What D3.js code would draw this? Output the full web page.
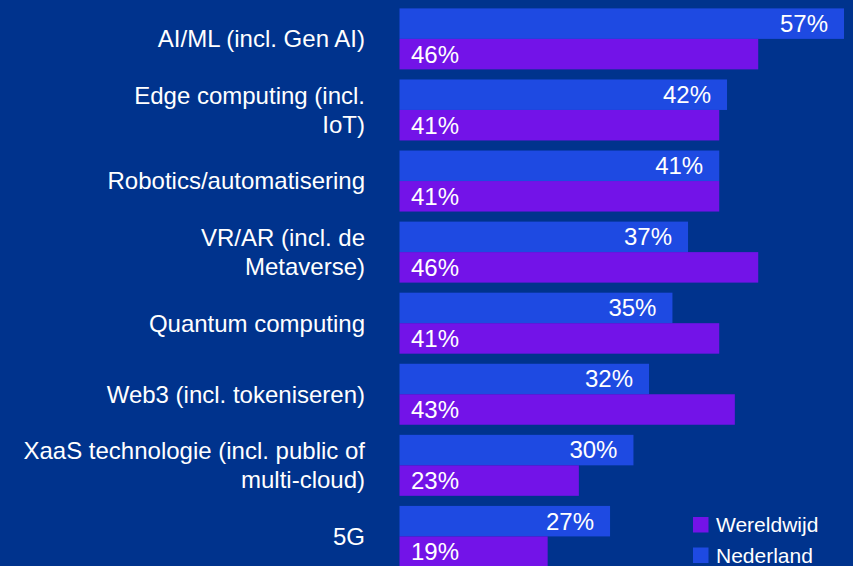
<!DOCTYPE html>
<html>
<head>
<meta charset="utf-8">
<script src="https://cdn.jsdelivr.net/npm/d3@7"></script>
<style>
  html, body { margin: 0; padding: 0; background: #00338D; overflow: hidden; }
  svg { display: block; font-family: "Liberation Sans", Arial, sans-serif; }
</style>
</head>
<body>
<div id="chart"></div>
<script>
// categories, with the line breaks used in the original labels
var categories = [
  ["AI/ML (incl. Gen AI)"],
  ["Edge computing (incl.", "IoT)"],
  ["Robotics/automatisering"],
  ["VR/AR (incl. de", "Metaverse)"],
  ["Quantum computing"],
  ["Web3 (incl. tokeniseren)"],
  ["XaaS technologie (incl. public of", "multi-cloud)"],
  ["5G"]
];
var nederland  = [57, 42, 41, 37, 35, 32, 30, 27];
var wereldwijd = [46, 41, 41, 46, 41, 43, 23, 19];
var seriesNames = ["Nederland", "Wereldwijd"];
var legendOrder = ["Wereldwijd", "Nederland"];

var width = 853, height = 566;
var colors = { Nederland: "#1E4AE2", Wereldwijd: "#7313E8" };

var svg = d3.select("#chart").append("svg")
    .attr("width", width)
    .attr("height", height);

svg.append("rect")
    .attr("width", width)
    .attr("height", height)
    .attr("fill", "#00338D");

var keys = categories.map(function(d) { return d.join(" "); });

var x = d3.scaleLinear()
    .domain([0, 57])
    .range([399.5, 844]);

var y = d3.scaleBand()
    .domain(keys)
    .range([8.4, 566.9])
    .paddingInner(0.142)
    .paddingOuter(0);

var ySeries = d3.scaleBand()
    .domain(seriesNames)
    .range([0, y.bandwidth()]);

var rows = keys.map(function(k, i) {
  return { key: k, lines: categories[i], Nederland: nederland[i], Wereldwijd: wereldwijd[i] };
});

var fontSize = 24;

var group = svg.selectAll("g.row")
    .data(rows)
  .enter().append("g")
    .attr("class", "row")
    .attr("transform", function(d) { return "translate(0," + y(d.key) + ")"; });

// bars
group.selectAll("rect")
    .data(function(d) { return seriesNames.map(function(s) { return { s: s, v: d[s] }; }); })
  .enter().append("rect")
    .attr("x", x(0))
    .attr("y", function(d) { return ySeries(d.s); })
    .attr("width", function(d) { return x(d.v) - x(0); })
    .attr("height", ySeries.bandwidth())
    .attr("fill", function(d) { return colors[d.s]; });

// value labels
group.selectAll("text.val")
    .data(function(d) { return seriesNames.map(function(s) { return { s: s, v: d[s] }; }); })
  .enter().append("text")
    .attr("class", "val")
    .attr("x", function(d) { return d.s === "Nederland" ? x(d.v) - 16 : x(0) + 11.5; })
    .attr("y", function(d) { return ySeries(d.s) + ySeries.bandwidth() / 2; })
    .attr("dy", "0.35em")
    .attr("text-anchor", function(d) { return d.s === "Nederland" ? "end" : "start"; })
    .attr("fill", "#ffffff")
    .style("font-size", fontSize + "px")
    .text(function(d) { return d.v + "%"; });

// category labels
var lineH = 29;
group.append("text")
    .attr("class", "cat")
    .attr("text-anchor", "end")
    .attr("fill", "#ffffff")
    .style("font-size", fontSize + "px")
    .each(function(d) {
      var t = d3.select(this);
      var n = d.lines.length;
      d.lines.forEach(function(line, j) {
        t.append("tspan")
          .attr("x", 365)
          .attr("y", y.bandwidth() / 2 + (j - (n - 1) / 2) * lineH)
          .attr("dy", "0.35em")
          .text(line);
      });
    });

// legend
var legend = svg.append("g")
    .selectAll("g")
    .data(legendOrder)
  .enter().append("g")
    .attr("transform", function(d, i) { return "translate(693," + (517 + i * 30.5) + ")"; });

legend.append("rect")
    .attr("width", 15.5)
    .attr("height", 15.5)
    .attr("fill", function(d) { return colors[d]; });

legend.append("text")
    .attr("x", 23)
    .attr("y", 7.75)
    .attr("dy", "0.35em")
    .attr("fill", "#ffffff")
    .style("font-size", "21px")
    .text(function(d) { return d; });
</script>
</body>
</html>
